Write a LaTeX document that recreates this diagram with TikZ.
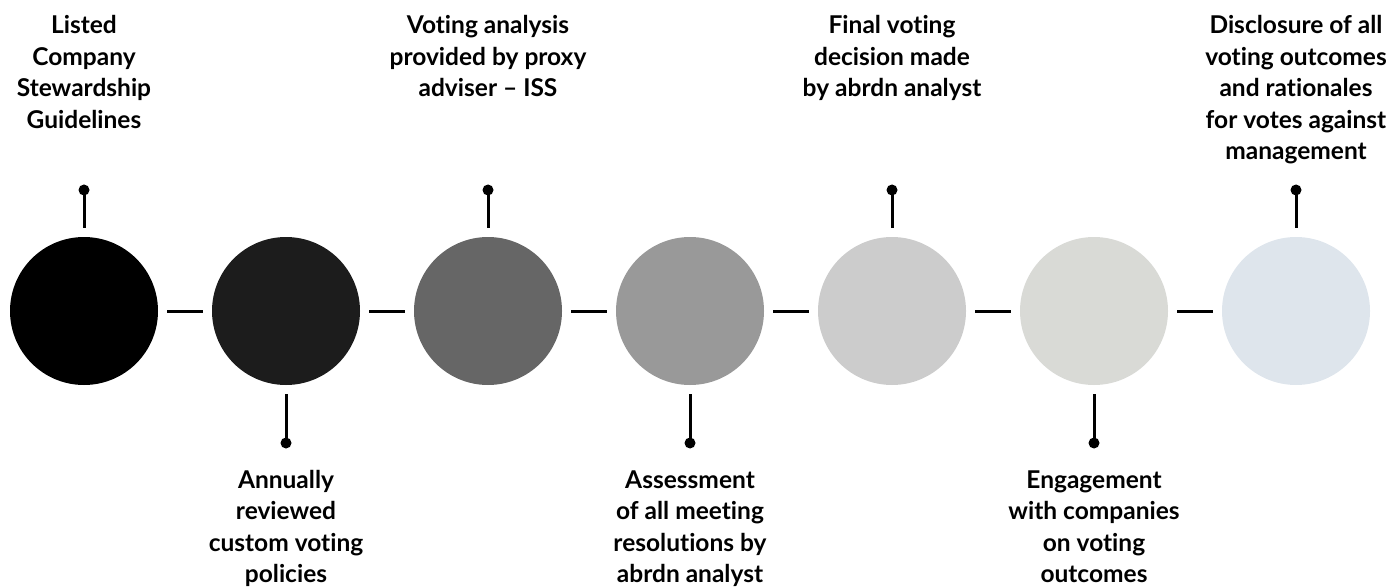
\documentclass[tikz,border=0pt]{standalone}
\usepackage{fontspec}
\setmainfont{Lato}[Ligatures=NoCommon]
\definecolor{shadeA}{HTML}{000000}
\definecolor{shadeB}{HTML}{1C1C1C}
\definecolor{shadeC}{HTML}{666666}
\definecolor{shadeD}{HTML}{999999}
\definecolor{shadeE}{HTML}{CCCCCC}
\definecolor{shadeF}{HTML}{D9DAD6}
\definecolor{shadeG}{HTML}{DEE5EC}
\begin{document}
\begin{tikzpicture}[x=1pt,y=-1pt,
	stage/.style={circle,minimum size=148pt,inner sep=0pt},
	stem/.style={line width=3pt},
	pin/.style={circle,fill=black,inner sep=0pt,minimum size=11pt},
	lbl/.style={align=center,anchor=base,font=\fontsize{24.5}{31.5}\selectfont\bfseries}]
		\useasboundingbox (0,0) rectangle (1389,588);

		% stages along the line
		\foreach \i/\col in {1/shadeA,2/shadeB,3/shadeC,4/shadeD,5/shadeE,6/shadeF,7/shadeG}
			\node[stage,fill=\col] (c\i) at ({84+202*(\i-1)},311) {};
		\foreach \i [count=\j from 2] in {1,...,6}
			\draw[stem,shorten <=9pt,shorten >=9pt] (c\i.east) -- (c\j.west);

		% pins above
		\foreach \i in {1,3,5,7} {
			\node[pin] (p\i) at ({84+202*(\i-1)},190) {};
			\draw[stem,shorten >=9pt] (p\i.center) -- (c\i.north);
		}
		% pins below
		\foreach \i in {2,4,6} {
			\node[pin] (p\i) at ({84+202*(\i-1)},443) {};
			\draw[stem,shorten <=9pt] (c\i.south) -- (p\i.center);
		}

		% labels (anchored at the base of the last line)
		\node[lbl] (t1) at (84,128.5) {Listed\\Company\\Stewardship\\Guidelines};
		\node[lbl] (t3) at (488,97) {Voting analysis\\provided by proxy\\adviser -- ISS};
		\node[lbl] (t5) at (892,97) {Final voting\\decision made\\by abrdn analyst};
		\node[lbl] (t7) at (1296,160) {Disclosure of all\\voting outcomes\\and rationales\\for votes against\\management};

		\node[lbl] (t2) at (286,582.5) {Annually\\reviewed\\custom voting\\policies};
		\node[lbl] (t4) at (690,582.5) {Assessment\\of all meeting\\resolutions by\\abrdn analyst};
		\node[lbl] (t6) at (1094,582.5) {Engagement\\with companies\\on voting\\outcomes};
	\end{tikzpicture}
\end{document}
